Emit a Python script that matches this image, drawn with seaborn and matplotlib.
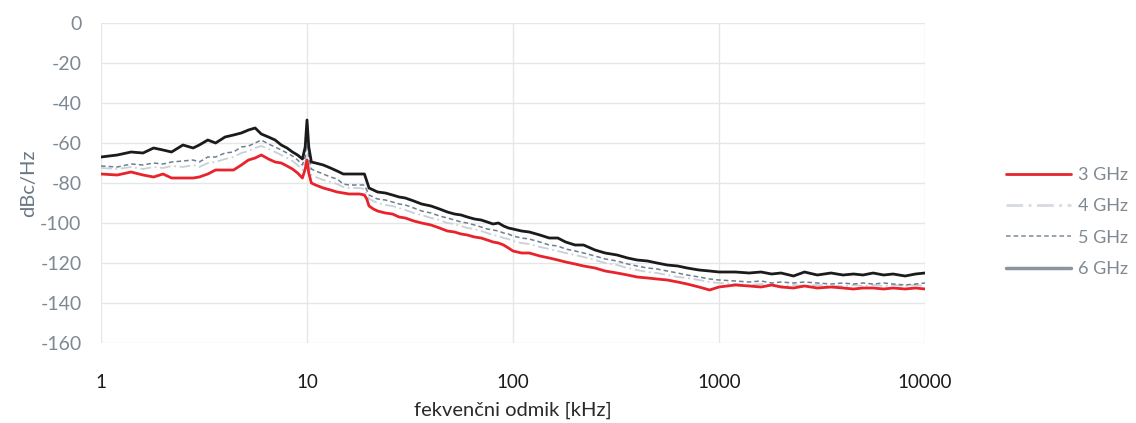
import matplotlib
matplotlib.use("Agg")
import matplotlib.pyplot as plt
from matplotlib.lines import Line2D
import seaborn as sns
import pandas as pd

freq_khz = [
    1, 1.2, 1.4, 1.6, 1.8, 2, 2.2, 2.5, 2.8, 3,
    3.3, 3.6, 4, 4.4, 4.8, 5.2, 5.6, 6, 6.5, 7,
    7.5, 8, 8.5, 9, 9.5, 9.8, 10, 10.2, 10.5, 11,
    12, 13, 14, 15, 16, 17, 18, 19, 19.5, 20,
    21, 22, 24, 26, 28, 30, 33, 36, 40, 44,
    48, 52, 56, 60, 65, 70, 75, 80, 85, 90,
    95, 100, 110, 120, 135, 150, 165, 180, 200, 220,
    250, 280, 320, 360, 400, 450, 500, 560, 630, 700,
    800, 900, 1000, 1200, 1400, 1600, 1800, 2000, 2300, 2600,
    3000, 3500, 4000, 4500, 5000, 5600, 6300, 7000, 8000, 9000,
    10000,
]

noise_3ghz = [
    -75.5, -76, -74.5, -76, -77, -75.5, -77.5, -77.5, -77.5, -77,
    -75.5, -73.5, -73.5, -73.5, -71, -68.5, -67.5, -66, -68, -69.5,
    -70, -71.5, -73, -75, -77.5, -73, -68.5, -75, -80, -81,
    -82.5, -83.5, -84.5, -85, -85.5, -85.5, -85.5, -86, -88, -91.5,
    -93, -94, -95, -95.5, -97, -97.5, -99, -100, -101, -102.5,
    -104, -104.5, -105.5, -106, -107, -107.5, -108.5, -109.5, -110, -111,
    -112.5, -114, -115, -115, -116.5, -117.5, -118.5, -119.5, -120.5, -121.5,
    -122.5, -124, -125, -126, -127, -127.5, -128, -128.5, -129.5, -130.5,
    -132, -133.5, -132, -131, -131.5, -132, -131, -132, -132.5, -131.5,
    -132.5, -132, -132.5, -133, -132.5, -132.5, -133, -132.5, -133, -132.5,
    -133,
]

noise_4ghz = [
    -72.5, -73, -72, -73, -72, -72.5, -71.5, -72, -71, -72,
    -70, -69.5, -68, -67, -65, -64, -62.5, -61.5, -63, -64.5,
    -66, -67.5, -69, -71, -73.5, -70, -60, -70, -76, -77,
    -78.5, -79.5, -80.5, -82, -82.5, -82.5, -82.5, -83, -85.5, -88,
    -89, -90, -91, -91.5, -92.5, -93.5, -95, -96, -97.5, -98.5,
    -100, -100.5, -101.5, -102.5, -103, -104, -105, -106, -106.5, -107.5,
    -108, -109, -110, -110.5, -112, -113, -114, -115, -116, -117,
    -118.5, -120, -121, -122.5, -123.5, -124.5, -125, -126, -127, -127.5,
    -128.5, -129.5, -130, -130.5, -131, -130.5, -131, -131.5, -131, -131.5,
    -131, -131.5, -131.5, -131, -131.5, -131, -131.5, -131, -131.5, -131,
    -131.5,
]

noise_5ghz = [
    -71.5, -72, -70.5, -71, -70, -70.5, -69.5, -69, -68.5, -69.5,
    -67, -67, -65, -64.5, -62, -61.5, -60, -58.5, -60.5, -62,
    -63.5, -65, -66.5, -68.5, -71, -67, -55, -67, -73, -74,
    -75.5, -77, -78, -80.5, -81, -81, -81, -81, -83.5, -86,
    -87, -88, -88.5, -89.5, -90.5, -91, -92.5, -94, -95, -96.5,
    -97.5, -98.5, -99.5, -100, -101, -102, -103, -103.5, -104, -105,
    -105.5, -106.5, -107.5, -108, -109.5, -111, -111.5, -113, -114, -115,
    -116.5, -118, -119, -120.5, -121.5, -122.5, -123, -124, -125, -126,
    -127, -128, -128.5, -129, -129.5, -129, -130, -129.5, -130, -129.5,
    -130, -130.5, -130, -130.5, -130, -130.5, -130, -130.5, -131, -130.5,
    -130,
]

noise_6ghz = [
    -67, -66, -64.5, -65, -62.5, -63.5, -64.5, -61, -62.5, -61,
    -58.5, -60, -57, -56, -55, -53.5, -52.5, -55.5, -57, -58.5,
    -61, -62.5, -64.5, -66, -68, -62, -48.5, -62, -69.5, -70,
    -71, -72.5, -74, -75.5, -75.5, -75.5, -75.5, -75.5, -79, -82.5,
    -83.5, -84.5, -85, -86, -87, -87.5, -89, -90.5, -91.5, -93,
    -94.5, -95.5, -96, -97, -98, -98.5, -99.5, -100.5, -100, -101.5,
    -102.5, -103, -104, -104.5, -106, -107.5, -107.5, -109.5, -111, -111,
    -113.5, -115, -116, -117.5, -118.5, -119, -120, -121, -121.5, -122.5,
    -123.5, -124, -124.5, -124.5, -125, -124.5, -125.5, -125, -126.5, -124.5,
    -126, -125, -126, -125.5, -126, -125, -126, -125.5, -126.5, -125.5,
    -125,
]

series_labels = ["3 GHz", "4 GHz", "5 GHz", "6 GHz"]
x_tick_values = [1, 10, 100, 1000, 10000]
x_tick_labels = ["1", "10", "100", "1000", "10000"]
y_tick_values = [0, -20, -40, -60, -80, -100, -120, -140, -160]
y_tick_labels = ["0", "-20", "-40", "-60", "-80", "-100", "-120", "-140", "-160"]

sns.set_theme(style="white")
plt.rcParams["font.family"] = ["Lato", "DejaVu Sans"]

fig = plt.figure(figsize=(11.36, 4.23), dpi=100)
ax = fig.add_axes([101 / 1136, 1 - 343 / 423, (925 - 101) / 1136, (343 - 23) / 423])

styles = {
    "3 GHz": dict(color="#e8232b", lw=2.0, ls="-"),
    "4 GHz": dict(color="#c9d0d6", lw=1.3, ls=(0, (6, 2, 1, 2))),
    "5 GHz": dict(color="#6e7f90", lw=1.1, ls=(0, (3, 2))),
    "6 GHz": dict(color="#1b1b1b", lw=2.0, ls="-"),
}
data = {"3 GHz": noise_3ghz, "4 GHz": noise_4ghz, "5 GHz": noise_5ghz, "6 GHz": noise_6ghz}

for name in ["4 GHz", "5 GHz", "3 GHz", "6 GHz"]:
    df = pd.DataFrame({"f": freq_khz, "v": data[name]})
    st = styles[name]
    sns.lineplot(data=df, x="f", y="v", ax=ax, color=st["color"], linewidth=st["lw"],
                 linestyle=st["ls"], legend=False)

ax.set_xscale("log")
ax.set_xlim(1, 10000)
ax.set_ylim(-160, 0)
ax.set_xticks(x_tick_values)
ax.set_xticklabels(x_tick_labels)
ax.minorticks_off()
ax.set_yticks(y_tick_values)
ax.set_yticklabels(y_tick_labels)
ax.grid(True, color="#e4e6e8", linewidth=1.0)
for s in ax.spines.values():
    s.set_visible(False)
ax.tick_params(axis="x", length=0, pad=22, labelsize=13.5, labelcolor="#1a1a1a")
ax.tick_params(axis="y", length=6, color="#e4e6e8", pad=8, labelsize=14, labelcolor="#7e8993")
ax.set_xlabel("fekvenčni odmik [kHz]", fontsize=14.5, color="#2a2a2a", labelpad=8)
ax.set_ylabel("dBc/Hz", fontsize=14.5, color="#6a7886", labelpad=2)

handles = [
    Line2D([], [], color="#e8232b", lw=2.0),
    Line2D([], [], color="#d6dbe0", lw=2.0, ls=(0, (6, 2, 1, 2))),
    Line2D([], [], color="#7d8a96", lw=1.1, ls=(0, (3, 2))),
    Line2D([], [], color="#8a959f", lw=2.5),
]
leg = fig.legend(handles, series_labels, loc="center left",
                 bbox_to_anchor=(990 / 1136, 1 - 222 / 423), frameon=False,
                 fontsize=13, handlelength=3.6, handletextpad=0.35, labelspacing=0.85)
for t in leg.get_texts():
    t.set_color("#7e8993")

fig.savefig("out.png", dpi=100, facecolor="white")
